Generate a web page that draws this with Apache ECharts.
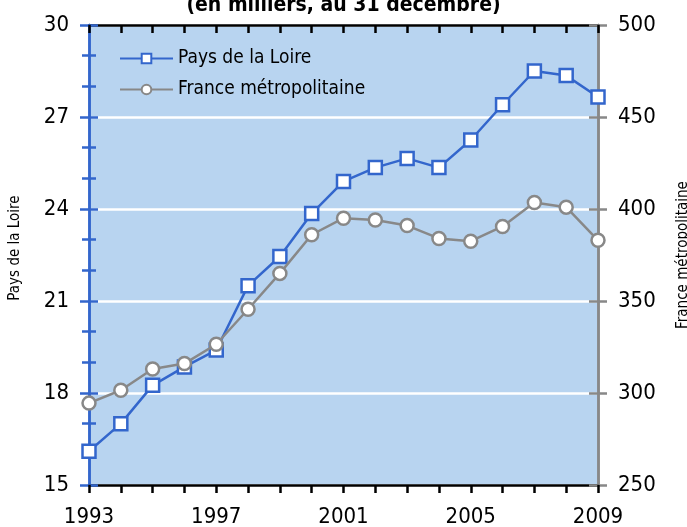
<!DOCTYPE html>
<html>
<head>
<meta charset="utf-8">
<script src="https://cdn.jsdelivr.net/npm/echarts@6/dist/echarts.min.js"></script>
<style>
  html, body { margin: 0; padding: 0; background: #fff; }
  #chart { width: 687px; height: 527px; }
</style>
</head>
<body>
<div id="chart"></div>
<script>
const years = ['1993', '1994', '1995', '1996', '1997', '1998', '1999', '2000', '2001',
  '2002', '2003', '2004', '2005', '2006', '2007', '2008', '2009']
// Pays de la Loire (left axis)
const paysLoire = [16.1, 17.0, 18.25, 18.85, 19.4, 21.5, 22.45, 23.85, 24.9,
  25.35, 25.65, 25.35, 26.25, 27.4, 28.5, 28.35, 27.65]
// France métropolitaine (right axis)
const franceMetro = [294.5, 301.5, 313, 316, 326.5, 345.5, 365, 386, 395,
  394, 391, 384, 382.5, 390.5, 403.5, 401, 383]
const leftTicks = { min: 15, max: 30, interval: 3 }
const rightTicks = { min: 250, max: 500, interval: 50 }

const font = '"DejaVu Sans Condensed", "DejaVu Sans", sans-serif'
// font-stretch goes through the weight slot of the canvas font string
const narrow = 'condensed'
const blue = '#3366cc'
const grey = '#888888'

const chart = echarts.init(document.getElementById('chart'))

// main axes carry the labels, overlay axes add the inner half of the crossing ticks
function leftAxis(inside) {
  return {
    type: 'value',
    position: 'left',
    min: leftTicks.min, max: leftTicks.max, interval: leftTicks.interval,
    name: inside ? '' : 'Pays de la Loire',
    nameLocation: 'middle',
    nameGap: 66,
    nameTextStyle: { fontFamily: font, fontWeight: narrow, fontSize: 15, color: '#000', padding: [0, 0, 0, 14] },
    axisLine: { show: true, lineStyle: { color: blue, width: 2.5 } },
    axisTick: { show: true, inside: inside, length: 9, lineStyle: { color: blue, width: 2.5 } },
    minorTick: { show: true, splitNumber: 3, length: 7, lineStyle: { color: blue, width: 2.5 } },
    axisLabel: { show: !inside, fontFamily: font, fontWeight: narrow, fontSize: 22, color: '#000', margin: 20 },
    splitLine: { show: !inside, lineStyle: { color: '#ffffff', width: 2.5 } }
  }
}
function rightAxis(inside) {
  return {
    type: 'value',
    position: 'right',
    min: rightTicks.min, max: rightTicks.max, interval: rightTicks.interval,
    name: inside ? '' : 'France métropolitaine',
    nameLocation: 'middle',
    nameGap: 78,
    nameRotate: 90,
    nameTextStyle: { fontFamily: font, fontWeight: narrow, fontSize: 15, color: '#000' },
    axisLine: { show: true, lineStyle: { color: grey, width: 2.5 } },
    axisTick: { show: true, inside: inside, length: 9, lineStyle: { color: grey, width: 2.5 } },
    axisLabel: { show: !inside, fontFamily: font, fontWeight: narrow, fontSize: 22, color: '#000', margin: 20 },
    splitLine: { show: false }
  }
}
function bottomAxis(inside) {
  return {
    type: 'category',
    data: years,
    boundaryGap: false,
    axisLine: { show: true, lineStyle: { color: '#000', width: 2.5 } },
    axisTick: { show: true, inside: inside, interval: 0, length: 8, lineStyle: { color: '#000', width: 2.5 } },
    axisLabel: { show: !inside, interval: 3, fontFamily: font, fontWeight: narrow, fontSize: 22, color: '#000', margin: 21 },
    splitLine: { show: false }
  }
}

chart.setOption({
  animation: false,
  title: {
    text: '(en milliers, au 31 décembre)',
    left: 'center',
    top: -10,
    textStyle: { fontFamily: font, fontWeight: 'bold condensed', fontSize: 21, color: '#000' }
  },
  legend: {
    orient: 'vertical',
    left: 114,
    top: 44,
    itemWidth: 53,
    itemHeight: 12,
    itemGap: 12,
    textStyle: { fontFamily: font, fontWeight: narrow, fontSize: 19, color: '#000' },
    data: ['Pays de la Loire', 'France métropolitaine']
  },
  grid: {
    left: 89, right: 89, top: 25, bottom: 42,
    outerBoundsMode: 'none',
    show: true,
    backgroundColor: '#b8d4f0',
    borderWidth: 0
  },
  xAxis: [bottomAxis(false), bottomAxis(true)],
  yAxis: [leftAxis(false), rightAxis(false), leftAxis(true), rightAxis(true)],
  series: [{
    name: 'Pays de la Loire',
    type: 'line',
    yAxisIndex: 0,
    data: paysLoire,
    symbol: 'rect',
    symbolSize: 13,
    itemStyle: { color: '#ffffff', borderColor: blue, borderWidth: 2.5 },
    lineStyle: { color: blue, width: 2.5 },
    z: 3
  }, {
    name: 'France métropolitaine',
    type: 'line',
    yAxisIndex: 1,
    data: franceMetro,
    symbol: 'circle',
    symbolSize: 13,
    itemStyle: { color: '#ffffff', borderColor: grey, borderWidth: 2.5 },
    lineStyle: { color: grey, width: 2.5 },
    z: 4
  }]
})
</script>
</body>
</html>
